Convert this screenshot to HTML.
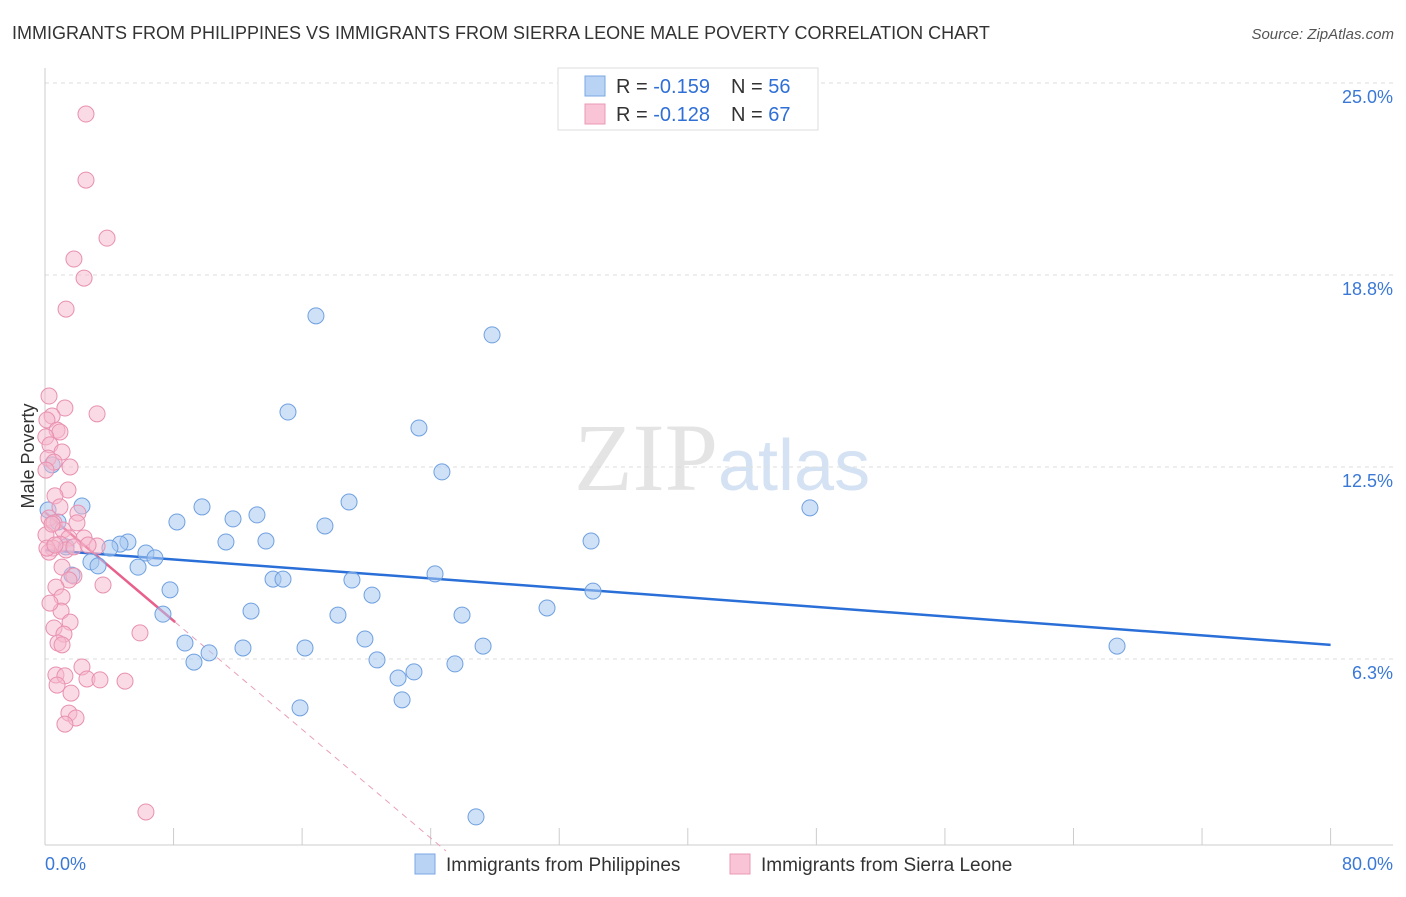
<!DOCTYPE html>
<html><head><meta charset="utf-8"><style>
body{margin:0;background:#fff;font-family:"Liberation Sans",sans-serif}
</style></head><body>
<svg id="c" width="1406" height="892" xmlns="http://www.w3.org/2000/svg" style="font-family:'Liberation Sans',sans-serif">
<text x="12" y="39" font-size="18" fill="#333">IMMIGRANTS FROM PHILIPPINES VS IMMIGRANTS FROM SIERRA LEONE MALE POVERTY CORRELATION CHART</text>
<text x="1394" y="39" font-size="15" fill="#555" font-style="italic" text-anchor="end">Source: ZipAtlas.com</text>
<text x="718" y="490" font-size="96" fill="#e4e4e4" text-anchor="end" font-family="Liberation Serif">ZIP</text>
<text x="718" y="490" font-size="72" fill="#d4e2f4">atlas</text>
<text x="34" y="456" font-size="18" fill="#333" text-anchor="middle" transform="rotate(-90 34 456)">Male Poverty</text>
<g id="grid"></g><g id="axes"></g><g id="lines"></g><g id="pts"></g>
<g>
<rect x="558" y="68" width="260" height="62" fill="#fff" stroke="#ddd"/>
<rect x="585" y="76" width="20" height="20" fill="#b9d3f5" stroke="#7aa7e3"/>
<rect x="585" y="104" width="20" height="20" fill="#f9c5d6" stroke="#eb98b5"/>
<text x="616" y="93" font-size="20" fill="#333">R = <tspan fill="#2f6fd6">-0.159</tspan></text>
<text x="731" y="93" font-size="20" fill="#333">N = <tspan fill="#2f6fd6">56</tspan></text>
<text x="616" y="121" font-size="20" fill="#333">R = <tspan fill="#2f6fd6">-0.128</tspan></text>
<text x="731" y="121" font-size="20" fill="#333">N = <tspan fill="#2f6fd6">67</tspan></text>
</g>
<g>
<rect x="415" y="854" width="20" height="20" fill="#b9d3f5" stroke="#7aa7e3"/>
<text x="446" y="871" font-size="19" fill="#333">Immigrants from Philippines</text>
<rect x="730" y="854" width="20" height="20" fill="#f9c5d6" stroke="#eb98b5"/>
<text x="761" y="871" font-size="19" fill="#333">Immigrants from Sierra Leone</text>
</g>
</svg>
<script>
const yTicks=[25,18.75,12.5,6.25];
const yTickLabels=["25.0%","18.8%","12.5%","6.3%"];
const xTicks=[0,8,16,24,32,40,48,56,64,72,80];
const xEndLabels=["0.0%","80.0%"];
const blueX=[16.86,27.82,15.12,23.27,24.70,18.92,47.60,2.30,9.77,13.19,11.70,8.21,17.42,33.98,13.75,11.26,5.16,4.67,4.04,6.28,6.84,2.86,3.30,5.79,24.27,14.19,14.81,19.10,7.78,34.10,20.35,31.24,12.82,7.34,18.23,25.95,19.91,8.71,27.26,66.71,12.32,16.18,10.21,20.66,9.27,25.51,22.96,21.97,15.87,22.22,26.82,0.44,0.81,0.19,1.31,1.68];
const blueY=[17.42,16.80,14.29,13.77,12.34,11.36,11.17,11.23,11.20,10.94,10.81,10.71,10.58,10.09,10.09,10.06,10.06,9.99,9.86,9.70,9.54,9.41,9.28,9.24,9.02,8.85,8.85,8.82,8.50,8.46,8.33,7.91,7.81,7.71,7.68,7.68,6.90,6.77,6.67,6.67,6.61,6.61,6.45,6.22,6.15,6.09,5.83,5.63,4.66,4.92,1.11,12.57,10.71,11.10,9.90,8.98];
const pinkX=[2.55,2.55,3.86,1.80,2.43,1.31,0.25,1.24,3.24,0.44,0.12,0.75,0.93,0.05,0.31,1.06,0.19,0.56,1.56,0.06,1.43,0.62,2.05,0.25,1.99,0.56,1.12,0.06,1.49,2.43,0.93,3.24,0.50,1.31,0.25,1.06,1.80,1.49,3.61,0.68,1.06,1.00,1.56,0.56,1.18,5.91,0.81,1.06,2.30,0.68,1.24,2.61,3.42,4.98,0.75,1.62,1.49,1.93,1.24,6.28,0.44,0.93,1.80,0.12,0.62,2.68,0.31];
const pinkY=[23.99,21.84,19.95,19.27,18.65,17.64,14.81,14.42,14.23,14.16,14.03,13.70,13.64,13.48,13.22,12.99,12.79,12.66,12.50,12.40,11.75,11.56,11.00,10.84,10.68,10.68,10.45,10.29,10.19,10.19,9.99,9.93,9.86,9.80,9.73,9.24,8.95,8.82,8.66,8.59,8.27,7.81,7.45,7.26,7.06,7.10,6.77,6.71,5.99,5.73,5.70,5.60,5.57,5.53,5.40,5.14,4.49,4.33,4.13,1.27,10.64,11.20,9.90,9.86,9.96,9.96,8.07];
const blueTrend=[9.80,6.71];
const pinkTrend=[11.03,-0.442];
const pinkSolidEnd=8.1;

const X=v=>45+v*16.07, Y=v=>83+(25-v)*30.72;
const NS="http://www.w3.org/2000/svg";
function mk(p,t,a){const e=document.createElementNS(NS,t);for(const k in a)e.setAttribute(k,a[k]);document.getElementById(p).appendChild(e);return e;}
yTicks.forEach((t,i)=>{
 const g=mk('grid','line',{x1:45,x2:1393,y1:Y(t),y2:Y(t),stroke:'#ddd','stroke-dasharray':'4 4'});
 
 
 const l=mk('axes','text',{x:1393,y:Y(t)+20,'font-size':18,fill:'#3a78d6','text-anchor':'end'});
 l.textContent=yTickLabels[i];
 
 
});
const ax=mk('axes','line',{x1:45,x2:45,y1:68,y2:845,stroke:'#ccc'});


const bx=mk('axes','line',{x1:45,x2:1393,y1:845,y2:845,stroke:'#ccc'});


xTicks.forEach(t=>{
 const e=mk('axes','line',{x1:X(t),x2:X(t),y1:828,y2:845,stroke:'#ccc'});
 
 
});
[[0,'start'],[80,'end']].forEach((p,i)=>{
 const e=mk('axes','text',{x:i?1393:45,y:870,'font-size':18,fill:'#3a78d6','text-anchor':p[1]});
 e.textContent=xEndLabels[i];
 
 
});
blueX.forEach((x,i)=>{
 const c=mk('pts','circle',{cx:X(x),cy:Y(blueY[i]),r:8,fill:'rgba(168,200,240,0.55)',stroke:'#6fa0e0','stroke-width':1});
 
 
});
pinkX.forEach((x,i)=>{
 const c=mk('pts','circle',{cx:X(x),cy:Y(pinkY[i]),r:8,fill:'rgba(245,184,204,0.5)',stroke:'#e890b0','stroke-width':1});
 
 
});
const bl=mk('lines','line',{x1:X(0),y1:Y(blueTrend[0]),x2:X(80),y2:Y(blueTrend[1]),stroke:'#2a6fd8','stroke-width':2.5});


const pf=x=>pinkTrend[0]+pinkTrend[1]*x;
const ps=mk('lines','line',{x1:X(0),y1:Y(pf(0)),x2:X(pinkSolidEnd),y2:Y(pf(pinkSolidEnd)),stroke:'#e8608c','stroke-width':2.5});


const xEnd=-pinkTrend[0]/pinkTrend[1];
const pd=mk('lines','line',{x1:X(pinkSolidEnd),y1:Y(pf(pinkSolidEnd)),x2:X(xEnd),y2:Y(0),stroke:'#e8a0b8','stroke-width':1,'stroke-dasharray':'6 5'});


</script>
</body></html>
